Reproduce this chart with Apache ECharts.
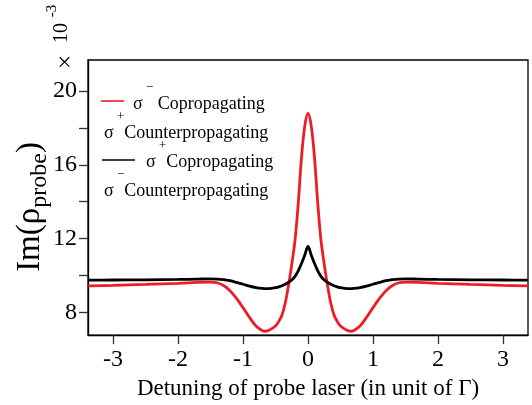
<!DOCTYPE html>
<html>
<head>
<meta charset="utf-8">
<script src="https://cdn.jsdelivr.net/npm/echarts@6/dist/echarts.min.js"></script>
<style>
  html, body { margin: 0; padding: 0; background: #fff; }
  #chart { width: 532px; height: 405px; }
</style>
</head>
<body>
<div id="chart"></div>
<script>
// Probe detuning (units of Γ)
const detuning = [-3.38, -3.0, -2.5, -2.0, -1.7, -1.5, -1.4, -1.3, -1.2, -1.1, -1.0, -0.9, -0.8, -0.7, -0.65, -0.6, -0.5, -0.45, -0.4, -0.35, -0.3, -0.25, -0.2, -0.15, -0.1, -0.05, 0,
                  0.05, 0.1, 0.15, 0.2, 0.25, 0.3, 0.35, 0.4, 0.45, 0.5, 0.6, 0.65, 0.7, 0.8, 0.9, 1.0, 1.1, 1.2, 1.3, 1.4, 1.5, 1.7, 2.0, 2.5, 3.0, 3.38];

// Im(rho_probe) ×10^-3, σ− copropagating / σ+ counterpropagating
const redVals = [9.43, 9.46, 9.51, 9.57, 9.62, 9.64, 9.60, 9.45, 9.17, 8.75, 8.25, 7.72, 7.25, 7.00, 6.97, 7.02, 7.25, 7.50, 7.85, 8.50, 9.45, 10.60, 11.90, 13.90, 16.40, 18.10, 18.80,
                 18.10, 16.40, 13.90, 11.90, 10.60, 9.45, 8.50, 7.85, 7.50, 7.25, 7.02, 6.97, 7.00, 7.25, 7.72, 8.25, 8.75, 9.17, 9.45, 9.60, 9.64, 9.62, 9.57, 9.51, 9.46, 9.43];

// Im(rho_probe) ×10^-3, σ+ copropagating / σ− counterpropagating
const blackVals = [9.74, 9.75, 9.76, 9.78, 9.80, 9.81, 9.80, 9.77, 9.71, 9.62, 9.52, 9.42, 9.34, 9.29, 9.28, 9.28, 9.33, 9.38, 9.44, 9.52, 9.62, 9.75, 9.95, 10.25, 10.65, 11.10, 11.57,
                   11.10, 10.65, 10.25, 9.95, 9.75, 9.62, 9.52, 9.44, 9.38, 9.33, 9.28, 9.28, 9.29, 9.34, 9.42, 9.52, 9.62, 9.71, 9.77, 9.80, 9.81, 9.80, 9.78, 9.76, 9.75, 9.74];

const xTicks = [-3, -2, -1, 0, 1, 2, 3];
const yTicks = [8, 10, 12, 14, 16, 18, 20];
const yLabels = [8, 12, 16, 20];

const SERIF = 'Liberation Serif';
const RED = '#ee1c24';

// rich-text styles shared by the legend entries
const legendRich = {
  g: { fontFamily: SERIF, fontSize: 18, fill: '#000', lineHeight: 46 },
  p: { fontFamily: SERIF, fontSize: 13, fill: '#000', lineHeight: 14, verticalAlign: 'top' }
};

// rotated single-string label in the serif face
function serifLabel(x, y, str, size) {
  return {
    type: 'text', x: x, y: y, rotation: Math.PI / 2,
    style: {
      text: '{t|' + str + '}', textAlign: 'center', textVerticalAlign: 'middle',
      rich: { t: { fontFamily: SERIF, fontSize: size, fill: '#000' } }
    }
  };
}

const chart = echarts.init(document.getElementById('chart'), null, { renderer: 'canvas' });

chart.setOption({
  backgroundColor: '#fff',
  animation: false,
  textStyle: { fontFamily: SERIF },
  grid: { left: 88, top: 60, right: 4, bottom: 66, show: true, borderColor: '#000', borderWidth: 1.3, backgroundColor: 'transparent' },
  xAxis: {
    type: 'value', min: -3.384, max: 3.384,
    name: 'Detuning of probe laser (in unit of Γ)',
    nameLocation: 'middle', nameGap: 37,
    nameTextStyle: { fontFamily: SERIF, fontSize: 23, color: '#000' },
    axisLine: { show: true, onZero: false, lineStyle: { color: '#000', width: 1.3 } },
    axisTick: { show: true, inside: false, length: 9, customValues: xTicks, lineStyle: { color: '#333', width: 1.3 } },
    axisLabel: { customValues: xTicks, margin: 13, fontFamily: SERIF, fontSize: 24, color: '#000' },
    splitLine: { show: false }
  },
  yAxis: {
    type: 'value', min: 6.76, max: 21.69,
    axisLine: { show: true, onZero: false, lineStyle: { color: '#000', width: 1.3 } },
    axisTick: { show: true, inside: false, length: 9, customValues: yTicks, lineStyle: { color: '#333', width: 1.3 } },
    axisLabel: { customValues: yLabels, margin: 11, fontFamily: SERIF, fontSize: 24, color: '#000' },
    splitLine: { show: false }
  },
  series: [
    {
      type: 'line', name: 'σ− Copropagating',
      data: detuning.map((x, i) => [x, redVals[i]]),
      showSymbol: false, smooth: 0.35,
      lineStyle: { color: RED, width: 2.8 }, z: 2
    },
    {
      type: 'line', name: 'σ+ Copropagating',
      data: detuning.map((x, i) => [x, blackVals[i]]),
      showSymbol: false, smooth: 0.35,
      lineStyle: { color: '#000', width: 2.8 }, z: 3
    }
  ],
  graphic: [
    // vertical axis title
    {
      type: 'text', x: 30, y: 207, rotation: Math.PI / 2,
      style: {
        text: '{m|Im(ρ}{s|probe}{m|)}', textAlign: 'center', textVerticalAlign: 'middle',
        rich: {
          m: { fontFamily: SERIF, fontSize: 33, fill: '#000', lineHeight: 44 },
          s: { fontFamily: SERIF, fontSize: 24, fill: '#000', lineHeight: 44, verticalAlign: 'bottom' }
        }
      }
    },
    // exponent marker for the vertical axis
    serifLabel(66, 62, '×', 25),
    serifLabel(62, 33, '10', 20),
    serifLabel(52, 11, '-3', 15),
    // legend
    { type: 'line', shape: { x1: 101, y1: 101, x2: 124, y2: 101 }, style: { stroke: RED, lineWidth: 1.6 } },
    { type: 'text', x: 133, y: 104,
      style: { text: '{g|σ}{p| −}{g| Copropagating}', textVerticalAlign: 'middle', rich: legendRich } },
    { type: 'text', x: 104, y: 133,
      style: { text: '{g|σ}{p| +}{g|Counterpropagating}', textVerticalAlign: 'middle', rich: legendRich } },
    { type: 'line', shape: { x1: 102, y1: 160, x2: 135, y2: 160 }, style: { stroke: '#000', lineWidth: 1.6 } },
    { type: 'text', x: 146, y: 162,
      style: { text: '{g|σ}{p| +}{g|Copropagating}', textVerticalAlign: 'middle', rich: legendRich } },
    { type: 'text', x: 104, y: 191,
      style: { text: '{g|σ}{p| −}{g|Counterpropagating}', textVerticalAlign: 'middle', rich: legendRich } }
  ]
});
</script>
</body>
</html>
